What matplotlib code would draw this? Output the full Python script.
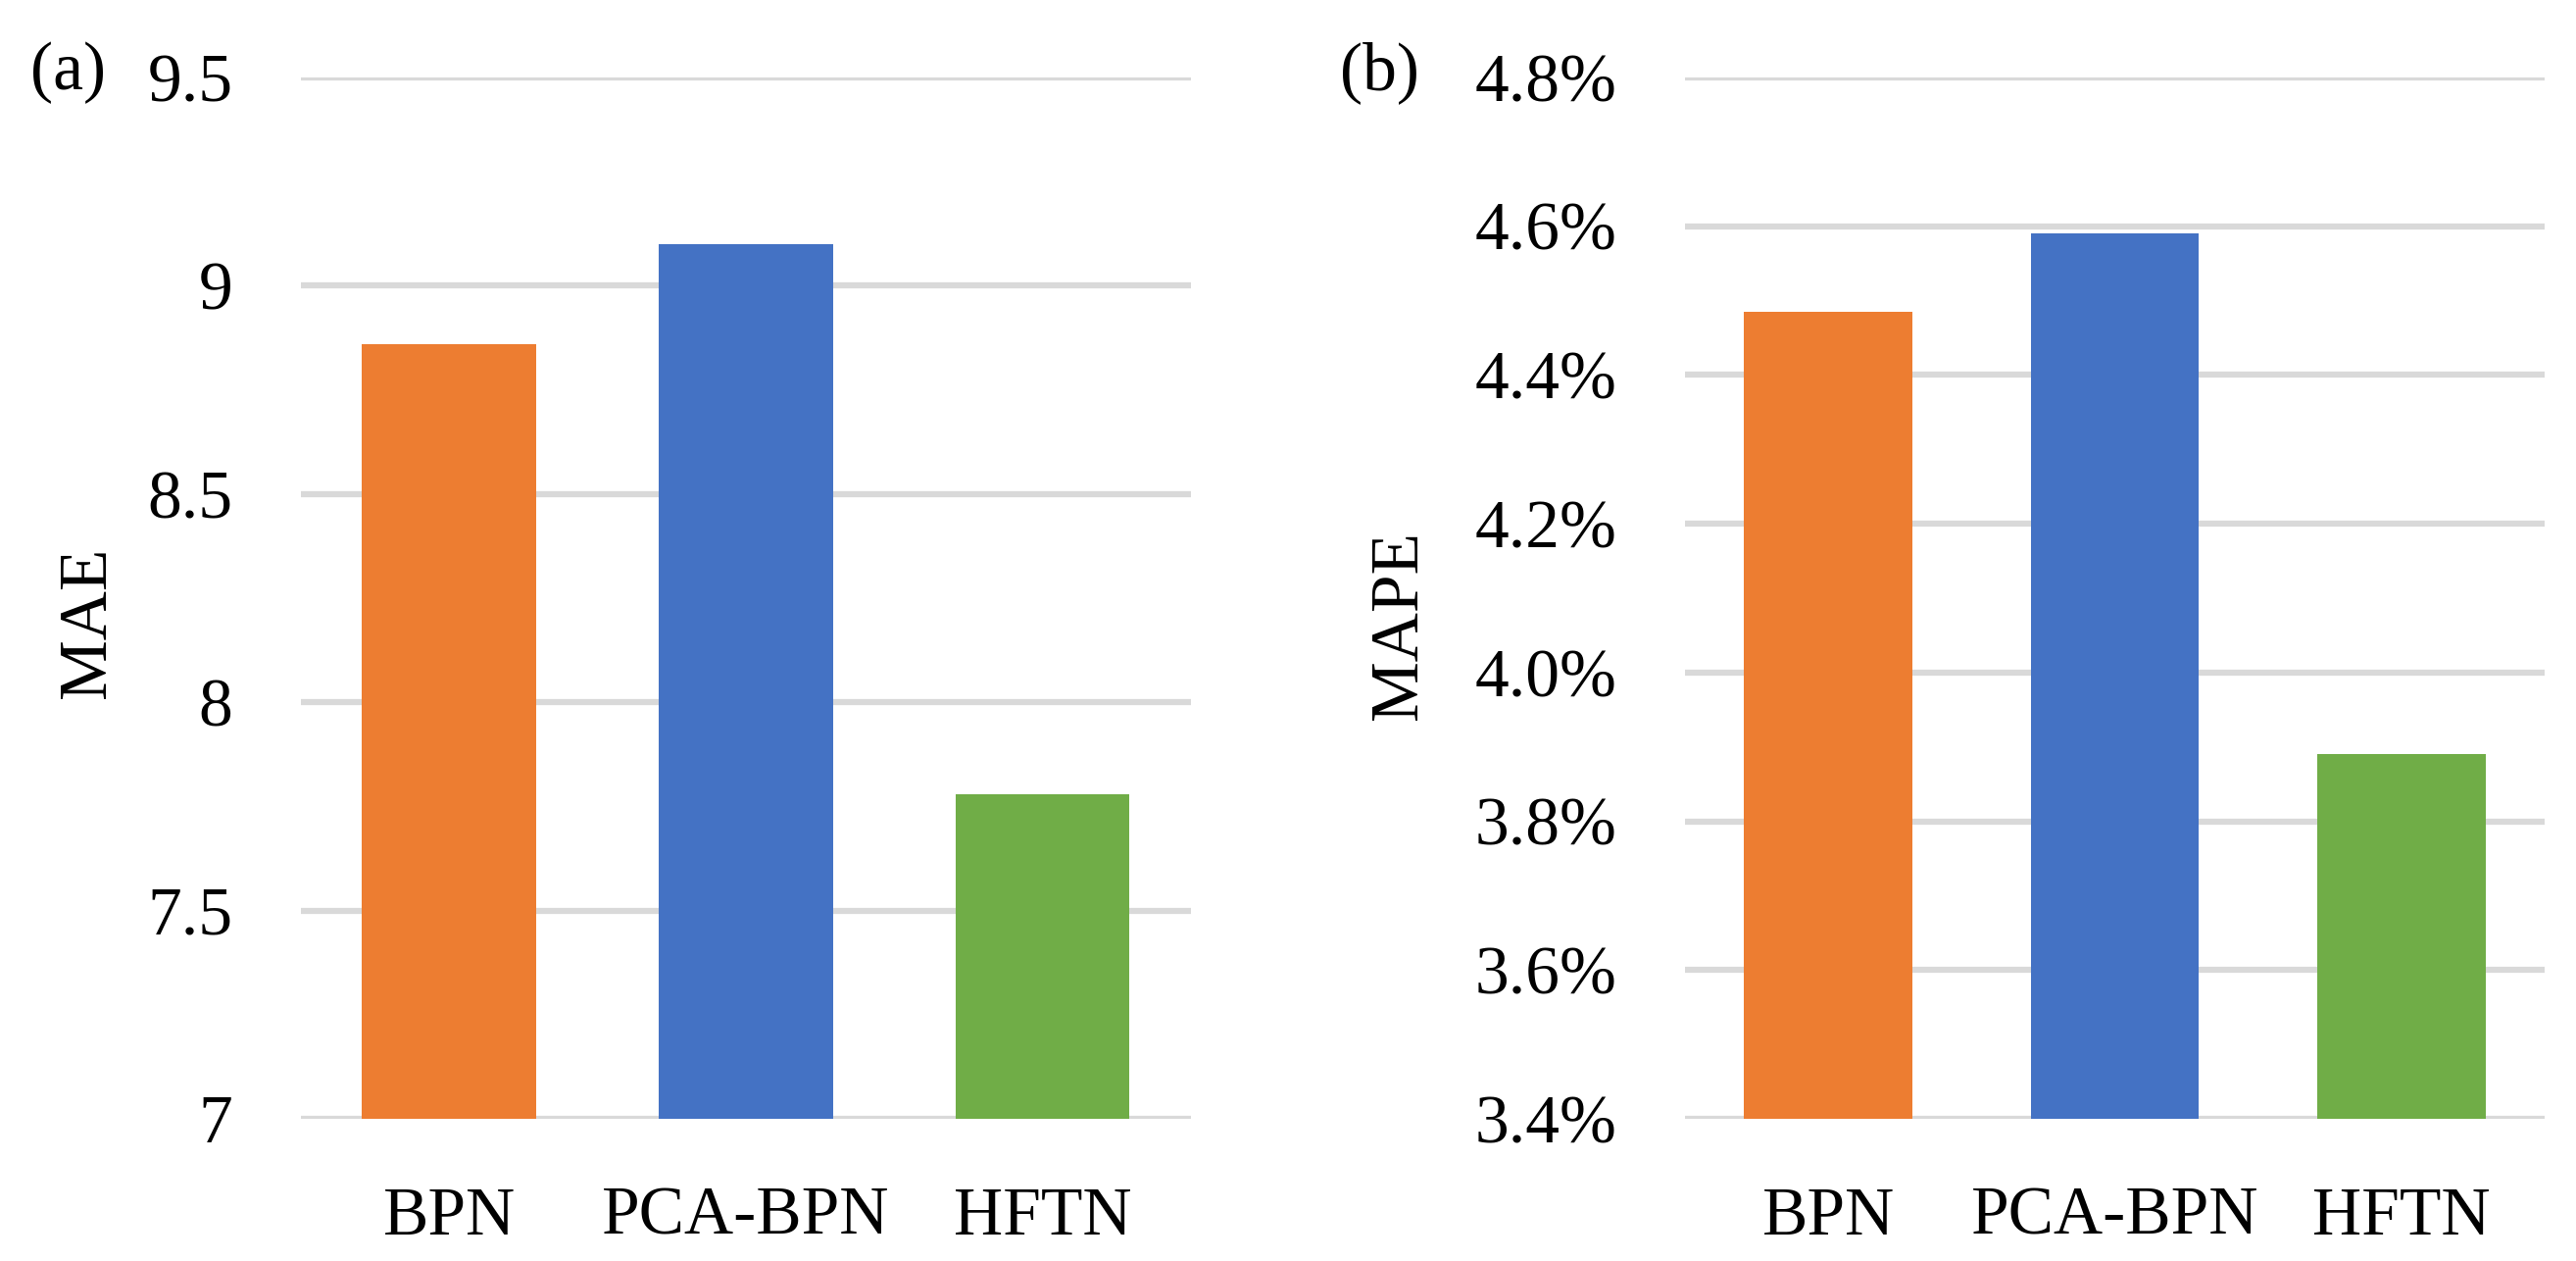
import matplotlib
matplotlib.use("Agg")
import matplotlib.pyplot as plt
from matplotlib.ticker import PercentFormatter, FuncFormatter

categories = ["BPN", "PCA-BPN", "HFTN"]
mae_values = [8.86, 9.10, 7.78]
mape_values = [0.04485, 0.0459, 0.0389]
bar_colors = ["#ED7D31", "#4472C4", "#70AD47"]
mae_ticks = [7, 7.5, 8, 8.5, 9, 9.5]
mape_ticks = [0.034, 0.036, 0.038, 0.040, 0.042, 0.044, 0.046, 0.048]

plt.rcParams['font.family'] = ['Liberation Serif', 'DejaVu Serif']
FS = 50

fig = plt.figure(figsize=(26.28, 12.86), dpi=100)
ax1 = fig.add_axes([0.1168, 0.1128, 0.3455, 0.8258])
ax2 = fig.add_axes([0.6541, 0.1128, 0.3337, 0.8258])

def style(ax, ticks, ylim):
    ax.set_ylim(*ylim)
    ax.set_xlim(-0.5, 2.5)
    ax.set_yticks(ticks)
    for s in ax.spines.values():
        s.set_visible(False)
    ax.yaxis.grid(True, color="#D9D9D9", linewidth=4.5, zorder=0)
    ax.set_axisbelow(True)
    ax.tick_params(axis='both', length=0, labelsize=FS)
    ax.tick_params(axis='y', pad=50)
    ax.tick_params(axis='x', pad=50)

x = range(len(categories))
ax1.bar(x, mae_values, width=0.587, color=bar_colors, zorder=2)
style(ax1, mae_ticks, (7, 9.5))
ax1.yaxis.set_major_formatter(FuncFormatter(lambda v, p: f"{v:g}"))
ax1.set_xticks(list(x))
ax1.set_xticklabels(categories)

ax2.bar(x, mape_values, width=0.588, color=bar_colors, zorder=2)
style(ax2, mape_ticks, (0.034, 0.048))
ax2.yaxis.set_major_formatter(PercentFormatter(xmax=1, decimals=1))
ax2.set_xticks(list(x))
ax2.set_xticklabels(categories)

fig.text(90 / 2628, 1 - 635 / 1286, "MAE", rotation=90, ha="center", va="center", fontsize=FS)
fig.text(1428 / 2628, 1 - 638 / 1286, "MAPE", rotation=90, ha="center", va="center", fontsize=FS)
fig.text(69 / 2628, 1 - 74 / 1286, "(a)", ha="center", va="center", fontsize=FS)
fig.text(1407 / 2628, 1 - 74 / 1286, "(b)", ha="center", va="center", fontsize=FS)

fig.savefig("out.png", dpi=100, facecolor="white")
